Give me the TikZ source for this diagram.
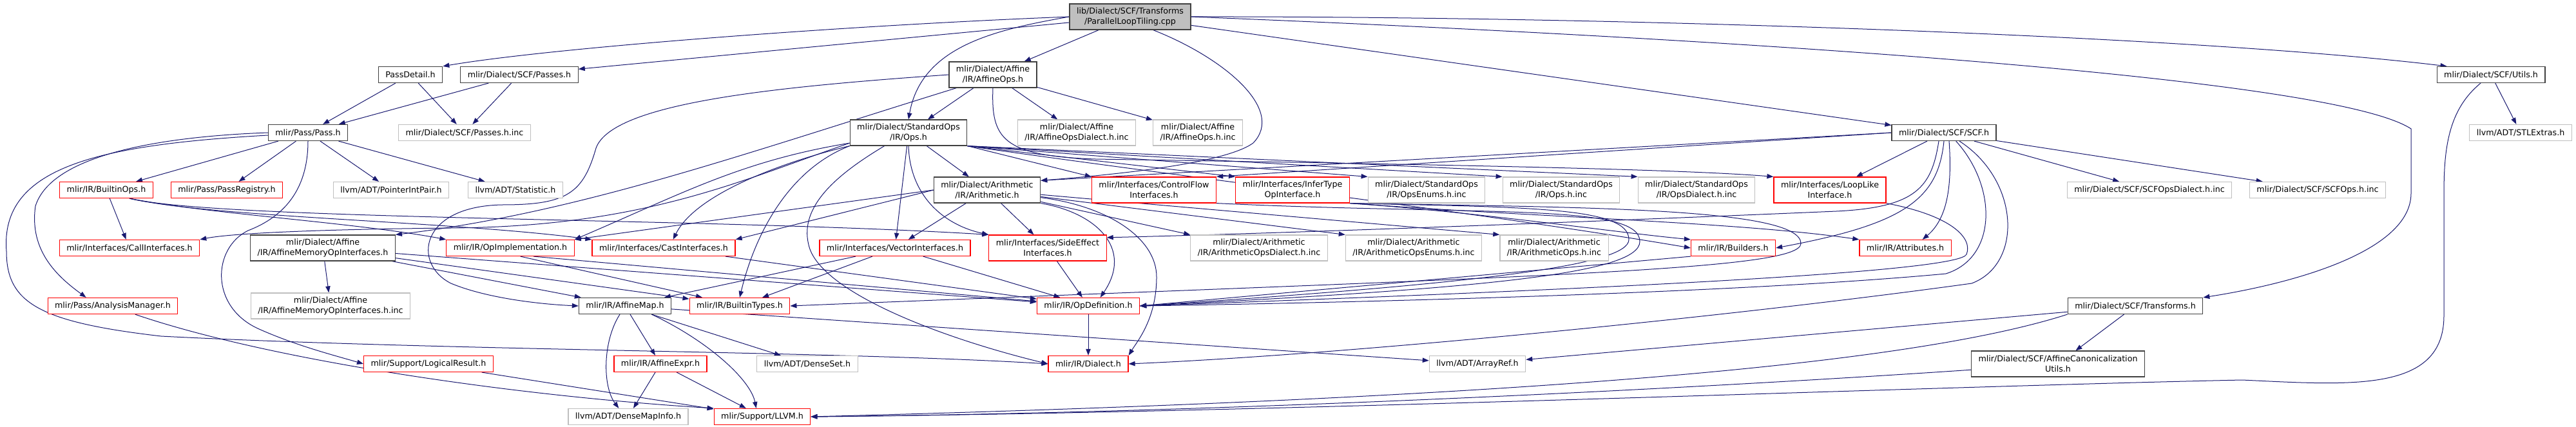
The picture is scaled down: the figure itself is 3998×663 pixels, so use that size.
\documentclass[tikz,border=0pt]{standalone}
\usepackage{fontspec}
\setmainfont{DejaVu Sans}
\usetikzlibrary{arrows.meta}
\definecolor{depblue}{HTML}{191970}
\definecolor{boxdark}{HTML}{404040}
\definecolor{boxlight}{HTML}{BFBFBF}
\pgfdeclarelayer{back}
\pgfsetlayers{back,main}

\begin{document}
\begin{tikzpicture}[x=0.75pt, y=-0.75pt,
  filebox/.style={draw, fill=white, rectangle, inner xsep=8.25pt, inner ysep=0pt, minimum height=18.75pt, align=center, font=\fontsize{9.5}{11.8}\selectfont, line width=0.9pt},
  two/.style={minimum height=30pt},
  mainfile/.style={filebox, draw=boxdark, fill=boxlight},
  docfile/.style={filebox, draw=boxdark},
  trunc/.style={filebox, draw=red},
  extfile/.style={filebox, draw=boxlight},
  dep/.style={draw=depblue, line width=0.75pt, -{Triangle[length=7.5pt, width=5.5pt]}}]
\useasboundingbox (0,0) rectangle (3998,663);

% row 0 and 1
\node[mainfile, two] (root) at (1754,26) {lib/Dialect/SCF/Transforms\\/ParallelLoopTiling.cpp};
\node[docfile] (passdetail) at (637,116) {PassDetail.h};
\node[docfile] (scfpasses) at (806,116) {mlir/Dialect/SCF/Passes.h};
\node[docfile, two] (affineops) at (1541,116) {mlir/Dialect/Affine\\/IR/AffineOps.h};
\node[docfile] (scfutils) at (3866,116) {mlir/Dialect/SCF/Utils.h};
% row 2
\node[docfile] (pass) at (478,206) {mlir/Pass/Pass.h};
\node[extfile] (passesinc) at (721,206) {mlir/Dialect/SCF/Passes.h.inc};
\node[docfile, two] (stdops) at (1410,206) {mlir/Dialect/StandardOps\\/IR/Ops.h};
\node[extfile, two] (affdialinc) at (1671,206) {mlir/Dialect/Affine\\/IR/AffineOpsDialect.h.inc};
\node[extfile, two] (affopsinc) at (1859,206) {mlir/Dialect/Affine\\/IR/AffineOps.h.inc};
\node[docfile] (scf) at (3017,206) {mlir/Dialect/SCF/SCF.h};
\node[extfile] (stlextras) at (3912,206) {llvm/ADT/STLExtras.h};
% row 3
\node[trunc] (builtinops) at (165,295) {mlir/IR/BuiltinOps.h};
\node[trunc] (passreg) at (352,295) {mlir/Pass/PassRegistry.h};
\node[extfile] (ptrint) at (607,295) {llvm/ADT/PointerIntPair.h};
\node[extfile] (statistic) at (800,295) {llvm/ADT/Statistic.h};
\node[docfile, two] (arith) at (1532,295) {mlir/Dialect/Arithmetic\\/IR/Arithmetic.h};
\node[trunc, two] (cflow) at (1791,295) {mlir/Interfaces/ControlFlow\\Interfaces.h};
\node[trunc, two] (infer) at (2006,295) {mlir/Interfaces/InferType\\OpInterface.h};
\node[extfile, two] (opsenums) at (2214,295) {mlir/Dialect/StandardOps\\/IR/OpsEnums.h.inc};
\node[extfile, two] (opsinc) at (2423,295) {mlir/Dialect/StandardOps\\/IR/Ops.h.inc};
\node[extfile, two] (opsdialinc) at (2633,295) {mlir/Dialect/StandardOps\\/IR/OpsDialect.h.inc};
\node[trunc, two] (looplike) at (2840,295) {mlir/Interfaces/LoopLike\\Interface.h};
\node[extfile] (scfdialinc) at (3336,295) {mlir/Dialect/SCF/SCFOpsDialect.h.inc};
\node[extfile] (scfopsinc) at (3597,295) {mlir/Dialect/SCF/SCFOps.h.inc};
% row 4
\node[trunc] (callif) at (201,385) {mlir/Interfaces/CallInterfaces.h};
\node[docfile, two] (affmem) at (501,385) {mlir/Dialect/Affine\\/IR/AffineMemoryOpInterfaces.h};
\node[trunc] (opimpl) at (792,385) {mlir/IR/OpImplementation.h};
\node[trunc] (castif) at (1030,385) {mlir/Interfaces/CastInterfaces.h};
\node[trunc] (vectorif) at (1389,385) {mlir/Interfaces/VectorInterfaces.h};
\node[trunc, two] (sideeff) at (1626,385) {mlir/Interfaces/SideEffect\\Interfaces.h};
\node[extfile, two] (arithdialinc) at (1954,385) {mlir/Dialect/Arithmetic\\/IR/ArithmeticOpsDialect.h.inc};
\node[extfile, two] (arithenumsinc) at (2194,385) {mlir/Dialect/Arithmetic\\/IR/ArithmeticOpsEnums.h.inc};
\node[extfile, two] (arithopsinc) at (2412,385) {mlir/Dialect/Arithmetic\\/IR/ArithmeticOps.h.inc};
\node[trunc] (builders) at (2690,385) {mlir/IR/Builders.h};
\node[trunc] (attrs) at (2957,385) {mlir/IR/Attributes.h};
% row 5
\node[trunc] (analysis) at (175,475) {mlir/Pass/AnalysisManager.h};
\node[extfile, two] (affmeminc) at (513,475) {mlir/Dialect/Affine\\/IR/AffineMemoryOpInterfaces.h.inc};
\node[docfile] (affinemap) at (970,475) {mlir/IR/AffineMap.h};
\node[trunc] (builtintypes) at (1148,475) {mlir/IR/BuiltinTypes.h};
\node[trunc] (opdef) at (1689,475) {mlir/IR/OpDefinition.h};
\node[docfile] (scftrans) at (3314,475) {mlir/Dialect/SCF/Transforms.h};
% row 6 and 7
\node[trunc] (logres) at (665,565) {mlir/Support/LogicalResult.h};
\node[trunc] (affexpr) at (1025,565) {mlir/IR/AffineExpr.h};
\node[extfile] (denseset) at (1253,565) {llvm/ADT/DenseSet.h};
\node[trunc] (dialect) at (1689,565) {mlir/IR/Dialect.h};
\node[extfile] (arrayref) at (2293,565) {llvm/ADT/ArrayRef.h};
\node[docfile, two] (affcanon) at (3194,565) {mlir/Dialect/SCF/AffineCanonicalization\\Utils.h};
\node[extfile] (densemapinfo) at (975,647) {llvm/ADT/DenseMapInfo.h};
\node[trunc] (llvm) at (1183,647) {mlir/Support/LLVM.h};

\begin{pgfonlayer}{back}
% source file
\draw[dep] (root.west) .. controls (1300,40) and (850,75) .. (passdetail.north east);
\draw[dep] (root) -- (scfpasses);
\draw[dep] (root.west) to[out=190,in=80] (stdops.north);
\draw[dep] (root) -- (affineops);
\draw[dep] (root.-30) .. controls (1900,90) and (1995,170) .. (1945,222) .. controls (1900,255) and (1720,272) .. (arith.10);
\draw[dep] (root) -- (scf);
\draw[dep] (root.east) .. controls (2500,25) and (3400,55) .. ([xshift=12pt]scfutils.north west);
\draw[dep] (root.east) .. controls (2700,60) and (3620,120) .. (3742,200) -- (3742,300) .. controls (3742,390) and (3560,440) .. (scftrans.north east);
% passes
\draw[dep] (passdetail) -- (pass);
\draw[dep] (passdetail) -- (passesinc);
\draw[dep] (scfpasses) -- (pass);
\draw[dep] (scfpasses) -- (passesinc);
\draw[dep] (pass) -- (builtinops);
\draw[dep] (pass) -- (passreg);
\draw[dep] (pass) -- (ptrint);
\draw[dep] (pass) -- (statistic);
\draw[dep] (pass.west) .. controls (250,212) and (80,240) .. (55,320) .. controls (45,390) and (90,430) .. ([xshift=-31pt]analysis.north);
\draw[dep] ([yshift=-3pt]pass.west) .. controls (150,225) and (0,260) .. (10,390) .. controls (10,470) and (60,500) .. (250,522) .. controls (700,545) and (1300,545) .. (dialect.west);
\draw[dep] (pass.south) .. controls (478,290) and (445,335) .. (385,358) .. controls (330,385) and (325,475) .. (400,510) .. controls (460,537) and (520,552) .. (logres.west);
% builtin ops
\draw[dep] (builtinops) -- (callif);
\draw[dep] (builtinops.-20) .. controls (320,332) and (550,345) .. (opimpl.north west);
\draw[dep] (builtinops.-20) .. controls (330,338) and (700,343) .. (castif.north west);
\draw[dep] (builtinops.-20) .. controls (340,342) and (1100,338) .. (sideeff.north west);
% interfaces
\draw[dep] (affmem) -- (affmeminc);
\draw[dep] (affmem) -- (affinemap);
\draw[dep] (affmem) -- (builtintypes);
\draw[dep] (affmem) -- (opdef);
\draw[dep] (opimpl.-20) -- (opdef);
\draw[dep] (opimpl.-40) -- (builtintypes);
\draw[dep] (castif) -- (opdef);
\draw[dep] (vectorif) -- (affinemap);
\draw[dep] (vectorif) -- (builtintypes);
\draw[dep] (vectorif) -- (opdef);
\draw[dep] (sideeff) -- (opdef);
\draw[dep] (opdef) -- (dialect);
% affine ops
\draw[dep] (affineops) -- (stdops);
\draw[dep] (affineops) -- (affdialinc);
\draw[dep] (affineops) -- (affopsinc);
\draw[dep] (affineops.200) .. controls (1150,240) and (900,330) .. (affmem.north east);
\draw[dep] (affineops.west) .. controls (1200,135) and (950,160) .. (925,230) .. controls (905,300) and (880,318) .. (780,318) .. controls (650,320) and (640,410) .. (700,440) .. controls (760,465) and (850,473) .. (affinemap.west);
\draw[dep] (affineops.south) .. controls (1538,215) and (1555,242) .. (1700,247) .. controls (2200,255) and (2600,262) .. (looplike.north west);
% standard ops
\draw[dep] (stdops) -- (arith);
\draw[dep] (stdops) -- (vectorif);
\draw[dep] (stdops.south) .. controls (1412,300) and (1460,348) .. (sideeff.north west);
\draw[dep] (stdops.190) .. controls (1150,280) and (1000,352) .. (700,354) .. controls (500,356) and (360,362) .. (callif.north east);
\draw[dep] (stdops.190) .. controls (1150,250) and (1060,300) .. (opimpl.north east);
\draw[dep] (stdops.south west) .. controls (1220,250) and (1080,300) .. ([xshift=11pt]castif.north);
\draw[dep] (stdops.south west) .. controls (1220,265) and (1170,370) .. (builtintypes.north);
\draw[dep] ([xshift=-28pt]stdops.south) .. controls (1300,270) and (1240,320) .. (1255,380) .. controls (1270,450) and (1450,522) .. (dialect.west);
\draw[dep] (stdops.south east) -- (cflow.north west);
\draw[dep] (stdops.south east) -- (infer.north west);
\draw[dep] (stdops.south east) -- (opsenums.north west);
\draw[dep] (stdops.south east) -- (opsinc.north west);
\draw[dep] (stdops.south east) -- (opsdialinc.north west);
\draw[dep] (stdops.south east) .. controls (1800,270) and (2300,330) .. (builders.west);
% arithmetic
\draw[dep] (arith) -- (vectorif);
\draw[dep] (arith) -- (sideeff);
\draw[dep] (arith.west) -- (castif.north east);
\draw[dep] (arith.west) -- (opimpl.north east);
\draw[dep] (arith) -- (arithdialinc.north west);
\draw[dep] (arith) -- (arithenumsinc.north west);
\draw[dep] (arith) -- (arithopsinc.north west);
\draw[dep] (arith.south east) .. controls (1700,330) and (1760,385) .. ([xshift=14pt]opdef.north);
\draw[dep] (arith.-8) .. controls (1720,320) and (1795,370) .. (1795,430) .. controls (1795,495) and (1765,530) .. (dialect.north east);
% scf
\draw[dep] (scf.west) -- (arith.10);
\draw[dep] (scf.west) -- (cflow.north east);
\draw[dep] (scf) -- (looplike);
\draw[dep] (scf) -- (scfdialinc);
\draw[dep] (scf) -- (scfopsinc);
\draw[dep] ([xshift=6pt]scf.south) .. controls (3030,290) and (3022,340) .. ([xshift=20pt]attrs.north);
\draw[dep] (scf.south) .. controls (3008,310) and (2955,348) .. (builders.east);
\draw[dep] ([xshift=-6pt]scf.south) .. controls (2998,290) and (2975,322) .. (2850,328) .. controls (2450,345) and (2000,362) .. (sideeff.10);
\draw[dep] ([xshift=14pt]scf.south) .. controls (3100,290) and (3100,400) .. (3020,425) .. controls (2700,455) and (2100,470) .. (opdef.east);
\draw[dep] ([xshift=18pt]scf.south) .. controls (3135,280) and (3140,410) .. (3060,440) .. controls (2700,490) and (2100,550) .. (dialect.east);
\draw[dep] (looplike.south east) .. controls (3030,335) and (3062,370) .. (3052,395) .. controls (3040,420) and (2600,445) .. (opdef.east);
% control flow and infer type
\draw[dep] (infer.south east) .. controls (2300,330) and (2500,360) .. (builders.north west);
\draw[dep] (infer.south east) .. controls (2400,338) and (2700,345) .. (attrs.north west);
\draw[dep] (infer.south east) .. controls (2380,322) and (2528,322) .. (2528,372) .. controls (2528,412) and (2300,440) .. (opdef.east);
\draw[dep] (cflow.south east) .. controls (2300,335) and (2545,315) .. (2545,375) .. controls (2545,425) and (2300,448) .. (opdef.east);
\draw[dep] (infer.south east) .. controls (2450,322) and (2795,322) .. (2795,378) .. controls (2795,420) and (2400,428) .. (builtintypes.east);
\draw[dep] (builders.south west) -- (opdef.east);
% affine map
\draw[dep] (affinemap) -- (affexpr);
\draw[dep] (affinemap) -- (denseset);
\draw[dep] ([xshift=-6pt]affinemap.south) .. controls (935,530) and (935,600) .. ([xshift=-11pt]densemapinfo.north);
\draw[dep] ([xshift=31pt]affinemap.south) .. controls (1100,530) and (1165,590) .. ([xshift=-7pt]llvm.north);
\draw[dep] (affinemap) -- (arrayref);
\draw[dep] (affexpr) -- (llvm);
\draw[dep] (affexpr) -- (densemapinfo);
\draw[dep] (logres) -- (llvm);
\draw[dep] ([xshift=26pt]analysis.south) .. controls (420,560) and (800,615) .. (llvm.north west);
% scf transforms and utils
\draw[dep] (scftrans) -- (affcanon);
\draw[dep] (scftrans) -- (arrayref);
\draw[dep] (scftrans.south west) .. controls (3000,555) and (2500,615) .. (llvm.east);
\draw[dep] (affcanon) .. controls (2800,592) and (2000,640) .. (llvm.east);
\draw[dep] (scfutils) -- (stlextras);
\draw[dep] (scfutils) .. controls (3800,170) and (3793,230) .. (3793,300) -- (3793,490) .. controls (3793,610) and (3650,598) .. (3480,590) .. controls (3000,600) and (2000,640) .. (llvm.east);
\end{pgfonlayer}
\end{tikzpicture}
\end{document}
